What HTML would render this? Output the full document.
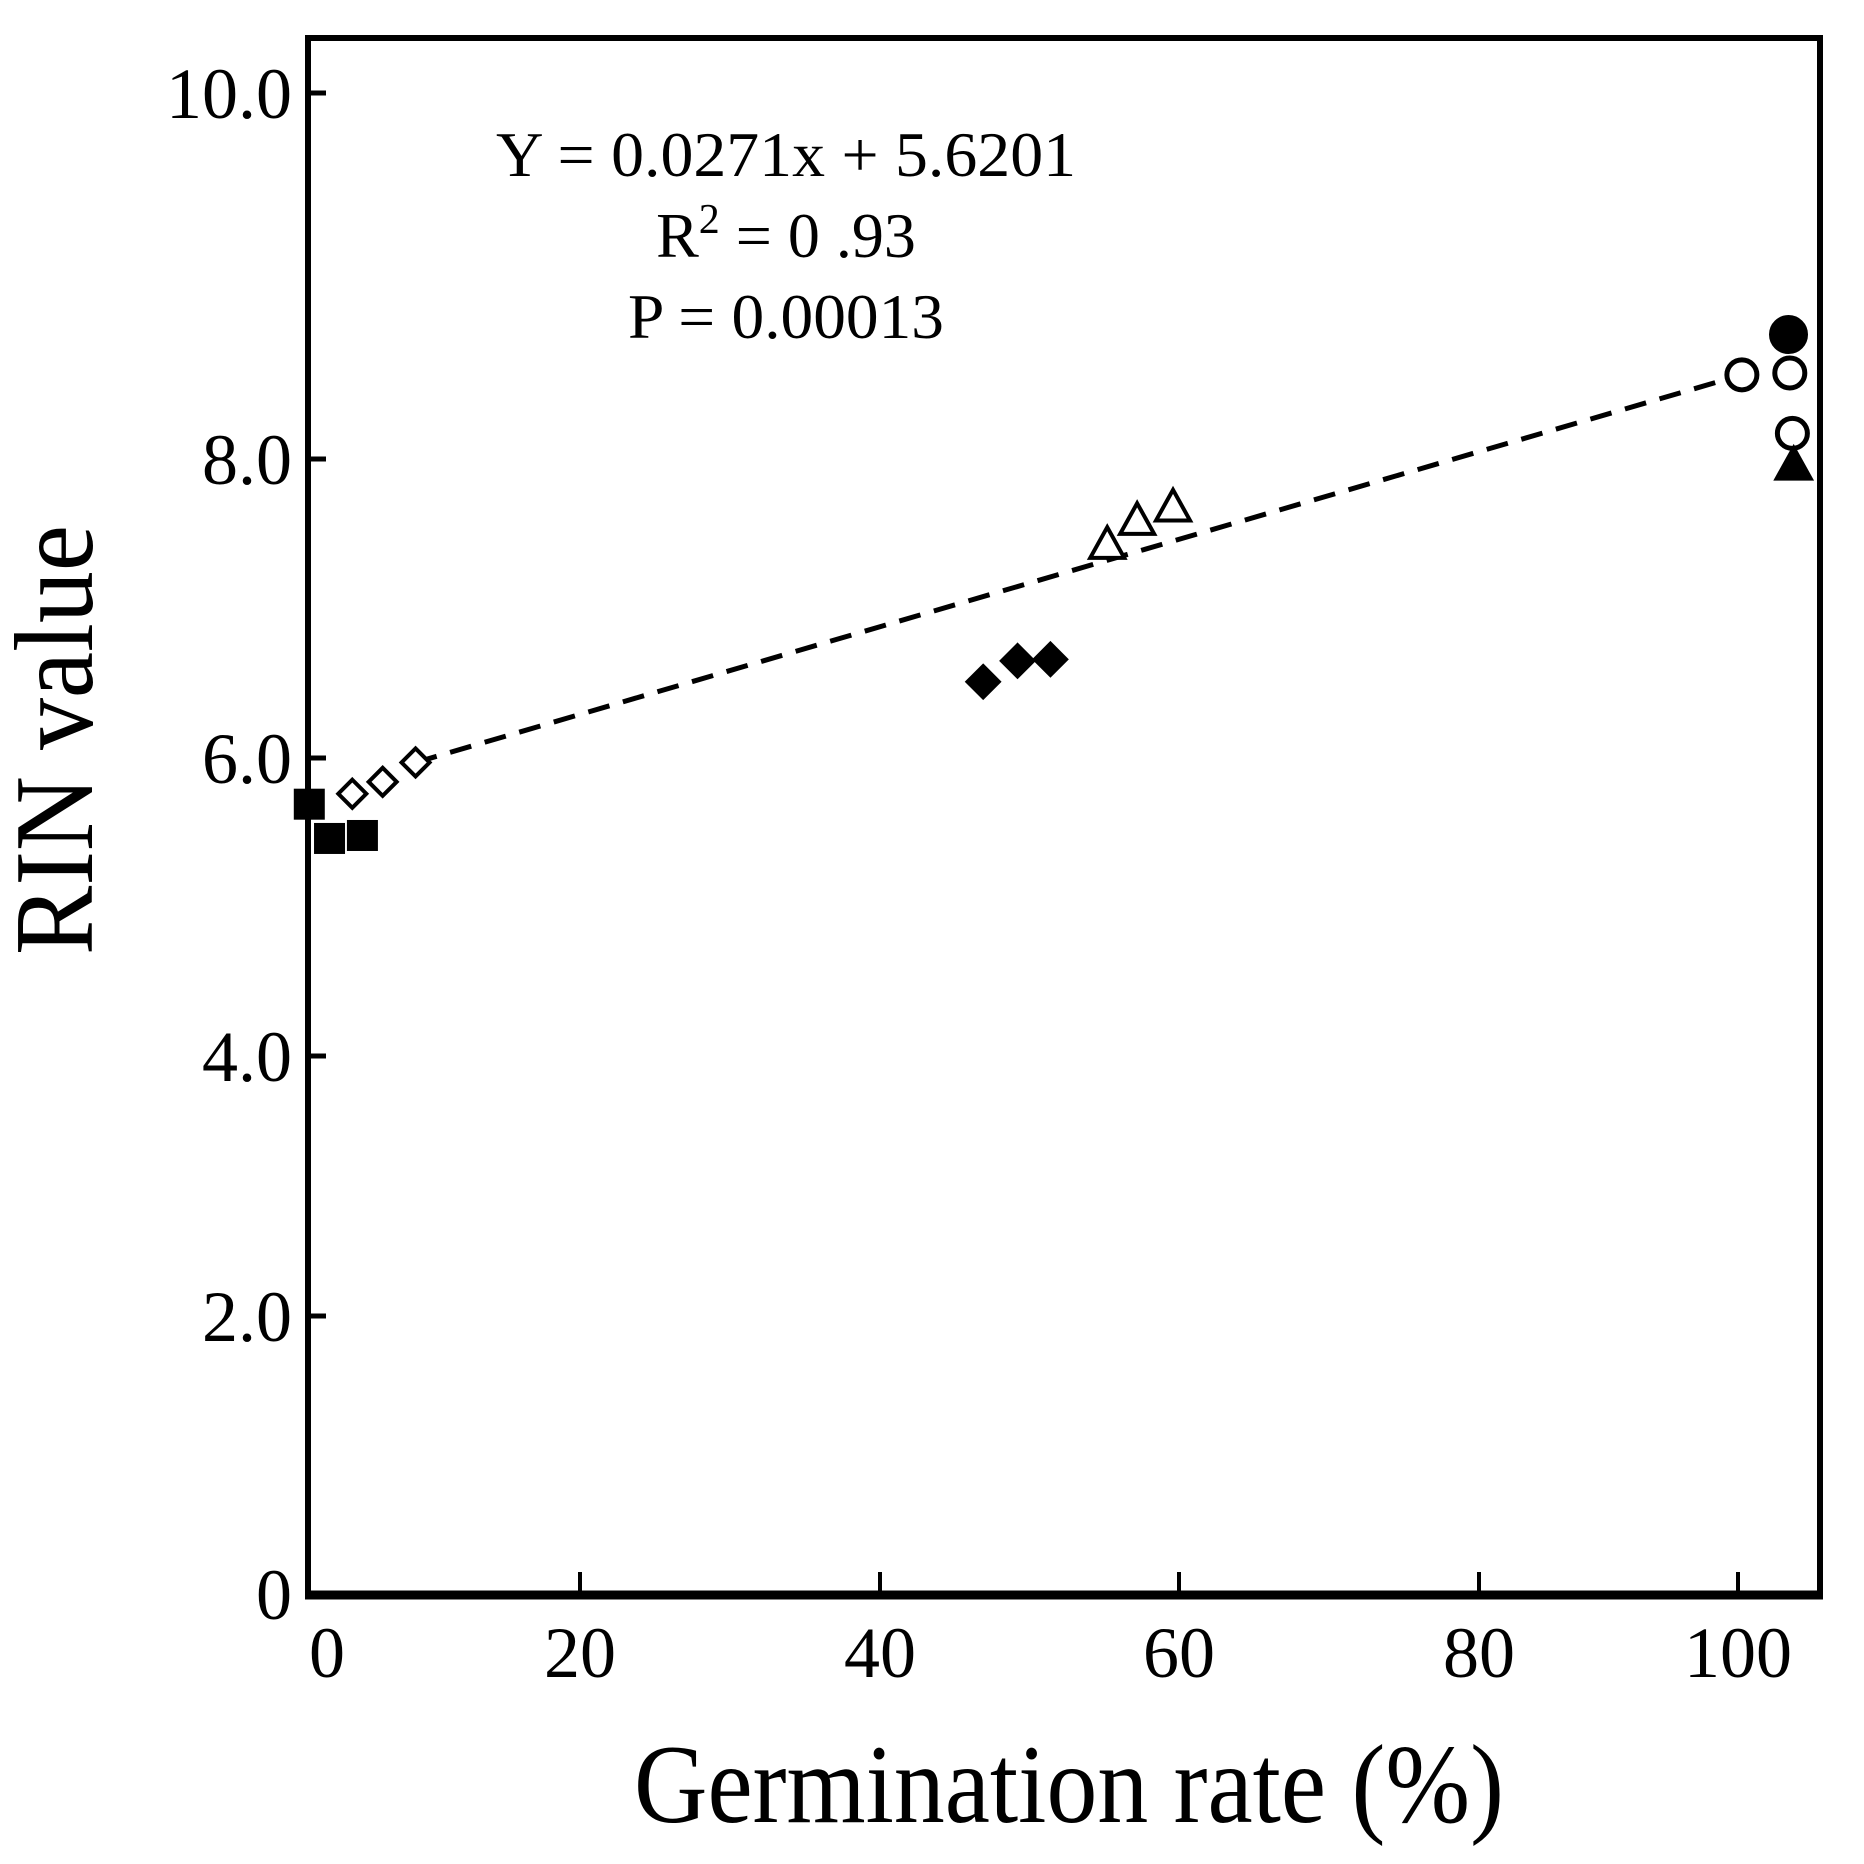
<!DOCTYPE html>
<html><head><meta charset="utf-8"><style>
html,body{margin:0;padding:0;background:#fff;}
svg{display:block;}
text{font-family:"Liberation Serif",serif;fill:#000;}
</style></head><body>
<svg id="chart" width="1864" height="1864" viewBox="0 0 1864 1864">
<g id="frame">
<rect x="308" y="38" width="1512" height="1556" fill="none" stroke="#000" stroke-width="6"/>
<line x1="305" y1="1595" x2="1823" y2="1595" stroke="#000" stroke-width="9"/>
</g>
<g id="ticks"></g>
<g id="marks"></g>
<g>
<text x="786" y="176" font-size="64" text-anchor="middle" textLength="580" lengthAdjust="spacingAndGlyphs">Y = 0.0271x + 5.6201</text>
<text x="786" y="257" font-size="64" text-anchor="middle">R<tspan dy="-24" font-size="42">2</tspan><tspan dy="24"> = 0 .93</tspan></text>
<text x="786" y="338" font-size="64" text-anchor="middle" textLength="316" lengthAdjust="spacingAndGlyphs">P = 0.00013</text>
</g>
<text x="0" y="0" font-size="112" text-anchor="middle" textLength="430" lengthAdjust="spacingAndGlyphs" transform="translate(92,740) rotate(-90)">RIN value</text>
<text x="1069" y="1822" font-size="112" text-anchor="middle" textLength="870" lengthAdjust="spacingAndGlyphs">Germination rate (%)</text>
</svg>
<script>
const xTicks=[0,20,40,60,80,100];
const xTickLabels=["0","20","40","60","80","100"];
const yTicks=[0,2,4,6,8,10];
const yTickLabels=["0","2.0","4.0","6.0","8.0","10.0"];
const xStopsPx=[327,580,880,1179,1479,1738];
const yStopsPx=[1594,1316,1056,758,459,93];

const sqX=[-1.4,0.2,2.8];
const sqY=[5.69,5.46,5.48];
const openDiaX=[2.0,4.4,7.0];
const openDiaY=[5.76,5.84,5.97];
const fillDiaX=[46.9,49.2,51.4];
const fillDiaY=[6.51,6.65,6.66];
const openTriX=[55.2,57.2,59.6];
const openTriY=[7.43,7.59,7.68];
const openCircX=[100.3,104.0,104.2];
const openCircY=[8.46,8.47,8.14];
const fillCircX=[103.9];
const fillCircY=[8.68];
const fillTriX=[104.3];
const fillTriY=[7.96];
const fitX=[7.0,100.3];
const fitY=[5.97,8.46];

function piece(v,dom,px){
  let i=0;
  if(v<=dom[0]) i=0; else if(v>=dom[dom.length-1]) i=dom.length-2;
  else { while(v>dom[i+1]) i++; }
  return px[i]+(v-dom[i])*(px[i+1]-px[i])/(dom[i+1]-dom[i]);
}
function sx(v){return piece(v,xTicks,xStopsPx);}
function sy(v){return piece(v,yTicks,yStopsPx);}

const NS="http://www.w3.org/2000/svg";
function mk(tag,attrs,parent){const e=document.createElementNS(NS,tag);for(const k in attrs)e.setAttribute(k,attrs[k]);parent.appendChild(e);return e;}
const ticks=document.getElementById('ticks');
const marks=document.getElementById('marks');

xTicks.forEach((v,i)=>{
  const x=sx(v);
  if(i>0){
    const t=mk('line',{x1:x,y1:1595,x2:x,y2:1572,stroke:'#000','stroke-width':4},ticks);
    
    
  }
  const l=mk('text',{x:x,y:1677,'font-size':72,'text-anchor':'middle'},ticks);
  l.textContent=xTickLabels[i];
  
  
});
yTicks.forEach((v,i)=>{
  const y=sy(v);
  if(i>0){
    const t=mk('line',{x1:308,y1:y,x2:326,y2:y,stroke:'#000','stroke-width':5},ticks);
    
    
  }
  const l=mk('text',{x:292,y:y+25,'font-size':72,'text-anchor':'end'},ticks);
  l.textContent=yTickLabels[i];
  
  
});

const fit=mk('line',{x1:sx(fitX[0]),y1:sy(fitY[0]),x2:sx(fitX[1]),y2:sy(fitY[1]),stroke:'#000','stroke-width':5,'stroke-dasharray':'22,14'},marks);



function drawSeries(xs,ys,shape,filled,name){
  xs.forEach((v,i)=>{
    const cx=sx(v), cy=sy(ys[i]);
    const fill=filled?'#000':'#fff';
    let e;
    if(shape==='sq') e=mk('rect',{x:cx-14,y:cy-14,width:28,height:28,fill:fill,stroke:'#000','stroke-width':3},marks);
    else if(shape==='dia'){const r=filled?17:14;e=mk('polygon',{points:`${cx},${cy-r} ${cx+r},${cy} ${cx},${cy+r} ${cx-r},${cy}`,fill:fill,stroke:'#000','stroke-width':filled?2:4},marks);}
    else if(shape==='tri'){const r=17;e=mk('polygon',{points:`${cx},${cy-r} ${cx+r},${cy+r*0.8} ${cx-r},${cy+r*0.8}`,fill:fill,stroke:'#000','stroke-width':4},marks);}
    else e=mk('circle',{cx:cx,cy:cy,r:filled?17:15,fill:fill,stroke:'#000','stroke-width':5},marks);
    
    
  });
}
drawSeries(sqX,sqY,'sq',true,'filled-square-point');
drawSeries(openDiaX,openDiaY,'dia',false,'open-diamond-point');
drawSeries(fillDiaX,fillDiaY,'dia',true,'filled-diamond-point');
drawSeries(openTriX,openTriY,'tri',false,'open-triangle-point');
drawSeries(openCircX,openCircY,'circ',false,'open-circle-point');
drawSeries(fillCircX,fillCircY,'circ',true,'filled-circle-point');
drawSeries(fillTriX,fillTriY,'tri',true,'filled-triangle-point');
</script>
</body></html>
